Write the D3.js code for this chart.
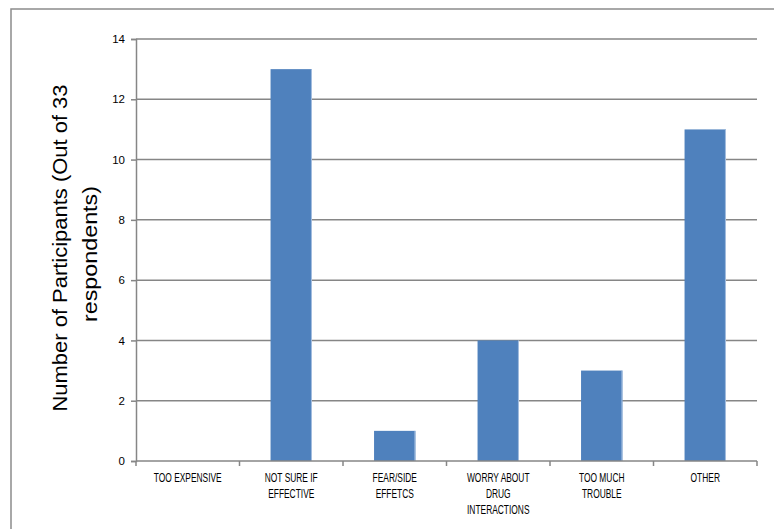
<!DOCTYPE html>
<html>
<head>
<meta charset="utf-8">
<script src="https://cdn.jsdelivr.net/npm/d3@7"></script>
<style>
  body { margin: 0; background: #fff; }
  text { font-family: "Liberation Sans", Arial, sans-serif; fill: #000; }
</style>
</head>
<body>
<div id="chart"></div>
<script>
const categories = [
  ["TOO EXPENSIVE"],
  ["NOT SURE IF", "EFFECTIVE"],
  ["FEAR/SIDE", "EFFETCS"],
  ["WORRY ABOUT", "DRUG", "INTERACTIONS"],
  ["TOO MUCH", "TROUBLE"],
  ["OTHER"]
];
const values = [0, 13, 1, 4, 3, 11];
const yTicks = [0, 2, 4, 6, 8, 10, 12, 14];
const yTitle = ["Number of Participants (Out of 33", "respondents)"];

const width = 774, height = 529;
const margin = { top: 39, right: 17, bottom: 68, left: 136 };
const innerWidth = width - margin.left - margin.right;
const innerHeight = height - margin.top - margin.bottom;

const svg = d3.select("#chart").append("svg")
  .attr("width", width)
  .attr("height", height);

// outer chart border (runs off the right and bottom)
svg.append("rect")
  .attr("x", 11).attr("y", 9)
  .attr("width", 800).attr("height", 600)
  .attr("fill", "none")
  .attr("stroke", "#8c8c8c")
  .attr("stroke-width", 1.5);

const g = svg.append("g")
  .attr("transform", "translate(" + margin.left + "," + margin.top + ")");

const x = d3.scaleBand()
  .domain(d3.range(categories.length))
  .range([0, innerWidth])
  .paddingInner(0.6)
  .paddingOuter(0.3);

const xBand = d3.scaleBand()
  .domain(d3.range(categories.length))
  .range([0, innerWidth]);

const y = d3.scaleLinear()
  .domain([0, 14])
  .range([innerHeight, 0]);

// gridlines
g.selectAll(".grid")
  .data(yTicks.filter(d => d > 0))
  .enter().append("line")
  .attr("x1", 0).attr("x2", innerWidth)
  .attr("y1", d => y(d)).attr("y2", d => y(d))
  .attr("stroke", "#868686")
  .attr("stroke-width", 1.5);

// bars
g.selectAll(".bar")
  .data(values)
  .enter().append("rect")
  .attr("x", (d, i) => x(i))
  .attr("y", d => y(d))
  .attr("width", x.bandwidth())
  .attr("height", d => innerHeight - y(d))
  .attr("fill", "#4f81bd");

// light right edge on each bar
g.selectAll(".barEdge")
  .data(values.map((v, i) => ({ v, i })).filter(d => d.v > 0))
  .enter().append("line")
  .attr("x1", d => x(d.i) + x.bandwidth() - 0.5)
  .attr("x2", d => x(d.i) + x.bandwidth() - 0.5)
  .attr("y1", d => y(d.v))
  .attr("y2", innerHeight)
  .attr("stroke", "#a7c0e0")
  .attr("stroke-width", 1);

// y axis
const yAxis = g.append("g")
  .call(d3.axisLeft(y).tickValues(yTicks).tickSize(5).tickPadding(6));
yAxis.select(".domain").attr("stroke", "#868686").attr("stroke-width", 1.5);
yAxis.selectAll(".tick line").attr("stroke", "#868686").attr("stroke-width", 1.5);
yAxis.selectAll(".tick text").style("font-size", "11.5px").style("fill", "#000");

// x axis
const xAxisG = g.append("g")
  .attr("transform", "translate(0," + innerHeight + ")");
xAxisG.append("line")
  .attr("x1", 0).attr("x2", innerWidth)
  .attr("stroke", "#868686").attr("stroke-width", 1.5);
xAxisG.selectAll(".xtick")
  .data(d3.range(categories.length + 1))
  .enter().append("line")
  .attr("x1", i => i < categories.length ? xBand(i) : innerWidth)
  .attr("x2", i => i < categories.length ? xBand(i) : innerWidth)
  .attr("y1", 0).attr("y2", 5)
  .attr("stroke", "#868686").attr("stroke-width", 1.5);

// category labels, squeezed horizontally like the narrow original font
const labels = xAxisG.selectAll(".xlabel")
  .data(categories)
  .enter().append("text")
  .attr("text-anchor", "middle")
  .attr("transform", (d, i) => "translate(" + (xBand(i) + xBand.bandwidth() / 2) + ",21) scale(0.7,1)")
  .style("font-size", "12px");
labels.selectAll("tspan")
  .data(d => d)
  .enter().append("tspan")
  .attr("x", 0)
  .attr("y", (d, i) => i * 16)
  .text(d => d);

// y title: two centred lines
const titlePos = [[67, 248, 327], [97, 254, 136]];
yTitle.forEach((t, i) => {
  svg.append("text")
    .attr("transform", "translate(" + titlePos[i][0] + "," + titlePos[i][1] + ") rotate(-90)")
    .attr("text-anchor", "middle")
    .attr("textLength", titlePos[i][2])
    .attr("lengthAdjust", "spacingAndGlyphs")
    .style("font-size", "21px")
    .text(t);
});
</script>
</body>
</html>
